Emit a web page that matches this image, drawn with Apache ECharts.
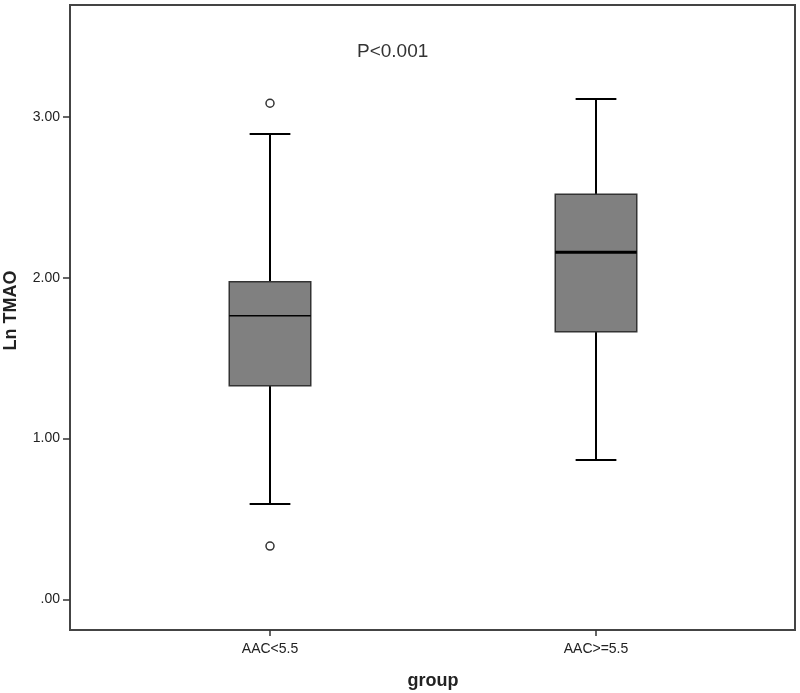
<!DOCTYPE html>
<html><head><meta charset="utf-8">
<script src="https://cdn.jsdelivr.net/npm/echarts@6/dist/echarts.min.js"></script>
<style>html,body{margin:0;padding:0;background:#fff}#c{width:800px;height:693px}</style>
</head><body><div id="c"></div>
<script>
const categories = ['AAC<5.5', 'AAC>=5.5'];
const whiskerLow = [0.593, 0.866];
const q1 = [1.328, 1.664];
const median = [1.764, 2.158];
const q3 = [1.975, 2.519];
const whiskerHigh = [2.894, 3.111];
const outliers = [[0, 3.085], [0, 0.331]];
const yTicks = [0, 1, 2, 3];
const yMin = -0.191, yMax = 3.696;

const boxData = categories.map((c, i) => [i, whiskerLow[i], q1[i], median[i], q3[i], whiskerHigh[i]]);
const medianWidth = [1.5, 3];

const chart = echarts.init(document.getElementById('c'), null, {renderer: 'canvas'});
const font = '"Liberation Sans", Arial, sans-serif';
chart.setOption({
  animation: false,
  backgroundColor: '#fff',
  grid: [
    {left: 70, right: 5, top: 5, bottom: 63, show: true, borderColor: '#444', borderWidth: 2, backgroundColor: 'transparent', containLabel: false, outerBoundsMode: 'none'},
    {left: 107, right: 41, top: 5, bottom: 63, containLabel: false, outerBoundsMode: 'none'}
  ],
  xAxis: [
    {gridIndex: 0, type: 'value', min: 0, max: 1, show: false},
    {gridIndex: 1, type: 'category', data: categories, boundaryGap: true,
     axisLine: {show: false, onZero: false},
     axisTick: {show: true, alignWithLabel: true, length: 6, lineStyle: {color: '#333', width: 1.5}},
     axisLabel: {fontFamily: font, fontSize: 14, color: '#222', margin: 12, interval: 0},
     name: 'group', nameLocation: 'middle', nameGap: 42,
     nameTextStyle: {fontFamily: font, fontSize: 18, fontWeight: 'bold', color: '#222'}}
  ],
  yAxis: [
    {gridIndex: 0, type: 'value', min: yMin, max: yMax,
     axisLine: {show: true, onZero: false, lineStyle: {color: '#444', width: 2}},
     axisTick: {show: true, length: 7, customValues: yTicks, lineStyle: {color: '#333', width: 1.5}},
     axisLabel: {customValues: yTicks, fontFamily: font, fontSize: 14, color: '#222', margin: 10,
       formatter: v => (Math.abs(v) < 1e-9 ? '.00' : v.toFixed(2))},
     splitLine: {show: false},
     name: 'Ln TMAO', nameLocation: 'middle', nameGap: 50,
     nameTextStyle: {fontFamily: font, fontSize: 18, fontWeight: 'bold', color: '#222', padding: [0, 0, 0, 14]}},
    {gridIndex: 1, type: 'value', min: yMin, max: yMax, show: false, splitLine: {show: false}}
  ],
  graphic: [
    {type: 'text', left: 357, top: 42, style: {text: 'P<0.001', font: '19px ' + font, fill: '#333'}}
  ],
  series: [
    {
      type: 'custom', xAxisIndex: 1, yAxisIndex: 1,
      data: boxData,
      encode: {x: 0, y: [1, 2, 3, 4, 5]},
      renderItem: function (params, api) {
        const idx = api.value(0);
        const band = api.size([1, 0])[0];
        const bw = band * 0.25, cw = band * 0.125;
        const pLow = api.coord([idx, api.value(1)]);
        const pQ1 = api.coord([idx, api.value(2)]);
        const pMed = api.coord([idx, api.value(3)]);
        const pQ3 = api.coord([idx, api.value(4)]);
        const pHigh = api.coord([idx, api.value(5)]);
        const cx = pQ1[0];
        const wl = {stroke: '#000', lineWidth: 2};
        return {
          type: 'group',
          children: [
            {type: 'line', shape: {x1: cx, y1: pLow[1], x2: cx, y2: pQ1[1]}, style: wl},
            {type: 'line', shape: {x1: cx, y1: pQ3[1], x2: cx, y2: pHigh[1]}, style: wl},
            {type: 'line', shape: {x1: cx - cw / 2, y1: pLow[1], x2: cx + cw / 2, y2: pLow[1]}, style: wl},
            {type: 'line', shape: {x1: cx - cw / 2, y1: pHigh[1], x2: cx + cw / 2, y2: pHigh[1]}, style: wl},
            {type: 'rect', shape: {x: cx - bw / 2, y: pQ3[1], width: bw, height: pQ1[1] - pQ3[1]},
             style: {fill: '#808080', stroke: '#333', lineWidth: 1.5}},
            {type: 'line', shape: {x1: cx - bw / 2, y1: pMed[1], x2: cx + bw / 2, y2: pMed[1]},
             style: {stroke: '#000', lineWidth: medianWidth[params.dataIndex]}}
          ]
        };
      }
    },
    {
      type: 'scatter', xAxisIndex: 1, yAxisIndex: 1,
      data: outliers, symbol: 'circle', symbolSize: 8,
      itemStyle: {color: '#fff', borderColor: '#333', borderWidth: 1.5, opacity: 1}
    }
  ]
});
</script></body></html>
